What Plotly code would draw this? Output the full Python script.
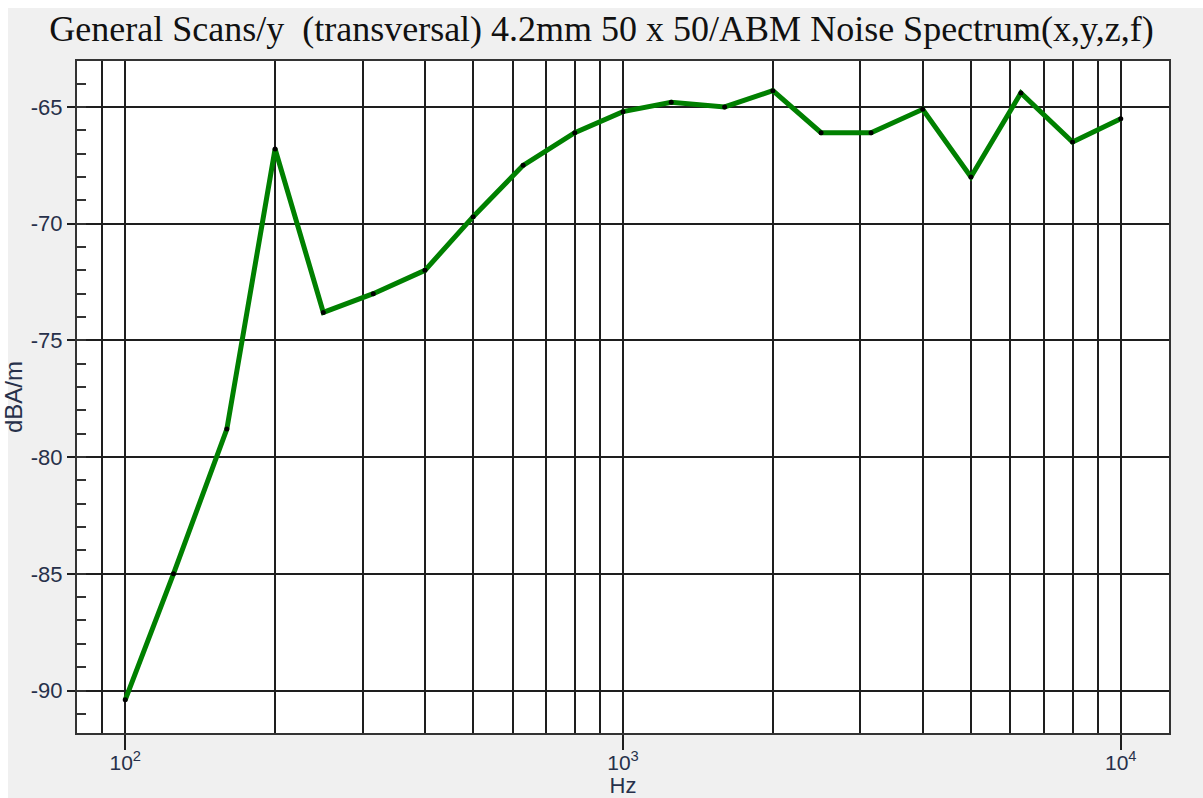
import plotly.graph_objects as go

# 1/3-octave band centre frequencies (Hz) and measured levels (dBA/m)
freqs = [100, 125, 160, 200, 250, 315, 400, 500, 630, 800, 1000,
         1250, 1600, 2000, 2500, 3150, 4000, 5000, 6300, 8000, 10000]
levels = [-90.4, -85.0, -78.8, -66.8, -73.8, -73.0, -72.0, -69.7, -67.5, -66.1, -65.2,
          -64.8, -65.0, -64.3, -66.1, -66.1, -65.1, -68.0, -64.4, -66.5, -65.5]

x_major = [100, 1000, 10000]
x_major_text = ["10<sup>2</sup>", "10<sup>3</sup>", "10<sup>4</sup>"]
x_grid = [90, 200, 300, 400, 500, 600, 700, 800, 900,
          2000, 3000, 4000, 5000, 6000, 7000, 8000, 9000]
y_major = [-90, -85, -80, -75, -70, -65]
y_major_text = ["-90", "-85", "-80", "-75", "-70", "-65"]

title_text = "General Scans/y\u00a0 (transversal) 4.2mm 50 x 50/ABM Noise Spectrum(x,y,z,f)"

fig = go.Figure()
fig.add_trace(go.Scatter(
    x=freqs, y=levels, mode="lines+markers",
    line=dict(color="#008000", width=5),
    marker=dict(color="#000000", size=5),
    showlegend=False,
))

grid_col = "#1e1e1e"
label_col = "#27304a"
fig.update_layout(
    width=1203, height=798,
    margin=dict(l=77, r=34, t=61, b=65),
    paper_bgcolor="#f0f0f0",
    plot_bgcolor="#ffffff",
    title=dict(text=title_text, x=0.5, xanchor="center", y=0.964, yanchor="middle",
               font=dict(family="Liberation Serif", size=36, color="#111111")),
    xaxis=dict(
        type="log", range=[1.9031, 4.0969], automargin=False,
        tickmode="array", tickvals=x_major, ticktext=x_major_text,
        ticks="outside", ticklen=15, tickwidth=1.5, tickcolor=grid_col,
        ticklabelstandoff=-5,
        showgrid=True, gridcolor=grid_col, gridwidth=1.5,
        minor=dict(tickmode="array", tickvals=x_grid, ticks="",
                   showgrid=True, gridcolor=grid_col, gridwidth=1.5),
        showline=True, linecolor="#333333", linewidth=2, mirror=True,
        zeroline=False,
        tickfont=dict(family="Liberation Sans", size=21, color=label_col),
        title=dict(text="Hz", standoff=0,
                   font=dict(family="Liberation Sans", size=22, color=label_col)),
    ),
    yaxis=dict(
        range=[-91.82, -63.03], automargin=False,
        tickmode="array", tickvals=y_major, ticktext=y_major_text,
        ticks="outside", ticklen=8, tickwidth=1.5, tickcolor=grid_col,
        showgrid=True, gridcolor=grid_col, gridwidth=1.5,
        minor=dict(dtick=1, ticks="inside", ticklen=9, tickwidth=2,
                   tickcolor="#333333", showgrid=False),
        showline=True, linecolor="#333333", linewidth=2, mirror=True,
        zeroline=False,
        tickfont=dict(family="Liberation Sans", size=22, color=label_col),
        title=dict(text="dBA/m", standoff=1,
                   font=dict(family="Liberation Sans", size=24, color=label_col)),
    ),
    # thin white frame along the top and left edges of the window
    shapes=[
        dict(type="rect", xref="paper", yref="paper", layer="below",
             x0=-0.08, x1=1.04, y0=1.0789, y1=1.10,
             fillcolor="#ffffff", line=dict(width=0)),
        dict(type="rect", xref="paper", yref="paper", layer="below",
             x0=-0.08, x1=-0.0632, y0=-0.11, y1=1.10,
             fillcolor="#ffffff", line=dict(width=0)),
    ],
)

fig.write_html("out.html")
